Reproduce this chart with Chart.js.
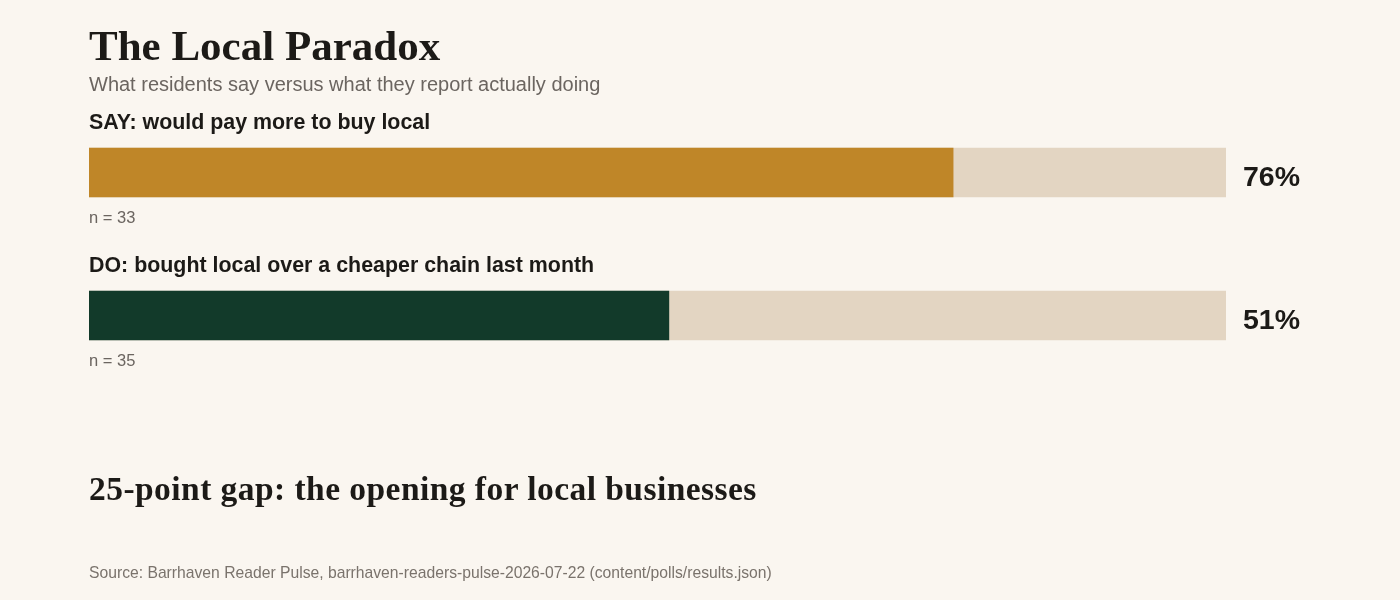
<!DOCTYPE html>
<html>
<head>
<meta charset="utf-8">
<script src="https://cdn.jsdelivr.net/npm/chart.js@4"></script>
<style>
  html,body{margin:0;padding:0;background:#faf6f0;}
  #wrap{position:relative;width:1400px;height:600px;overflow:hidden;background:#faf6f0;}
  #chart{position:absolute;left:0;top:0;width:1400px;height:600px;}
  .t{position:absolute;left:89px;margin:0;white-space:nowrap;line-height:1;}
  #title{top:24px;font:bold 43px "Liberation Serif",Georgia,serif;line-height:1;color:#1c1a17;}
  #sub{top:74px;font:20px "Liberation Sans",Arial,sans-serif;line-height:1;color:#6b6560;}
  #take{top:472px;font:bold 33.5px "Liberation Serif",Georgia,serif;line-height:1;letter-spacing:0.45px;color:#1c1a17;}
  #src{top:565px;font:15.7px "Liberation Sans",Arial,sans-serif;line-height:1;color:#7a736c;}
</style>
</head>
<body>
<div id="wrap">
  <canvas id="chart" width="1400" height="600"></canvas>
  <h1 class="t" id="title">The Local Paradox</h1>
  <p class="t" id="sub">What residents say versus what they report actually doing</p>
  <p class="t" id="take">25-point gap: the opening for local businesses</p>
  <p class="t" id="src">Source: Barrhaven Reader Pulse, barrhaven-readers-pulse-2026-07-22 (content/polls/results.json)</p>
</div>
<script>
const categories = ["SAY: would pay more to buy local", "DO: bought local over a cheaper chain last month"];
const values = [76, 51];
const sampleSizes = [33, 35];
const trackValues = [100, 100];
const barColors = ["#bf8628", "#123a2a"];

const labelPlugin = {
  id: 'rowLabels',
  afterDatasetsDraw(chart) {
    const ctx = chart.ctx;
    const meta = chart.getDatasetMeta(0);
    const area = chart.chartArea;
    meta.data.forEach((bar, i) => {
      const top = bar.y - bar.height / 2;
      const bottom = bar.y + bar.height / 2;
      ctx.save();
      ctx.textBaseline = 'alphabetic';
      ctx.textAlign = 'left';
      ctx.fillStyle = '#1c1a17';
      ctx.font = 'bold 21.4px "Liberation Sans", Arial, sans-serif';
      ctx.fillText(categories[i], area.left, top - 19.5);
      ctx.fillStyle = '#6b6560';
      ctx.font = '16.5px "Liberation Sans", Arial, sans-serif';
      ctx.fillText('n = ' + sampleSizes[i], area.left, bottom + 26);
      ctx.fillStyle = '#1c1a17';
      ctx.font = 'bold 28.5px "Liberation Sans", Arial, sans-serif';
      ctx.fillText(values[i] + '%', area.right + 17, bar.y + 13);
      ctx.restore();
    });
  }
};

new Chart(document.getElementById('chart'), {
  type: 'bar',
  data: {
    labels: categories,
    datasets: [
      { data: values, backgroundColor: barColors, barThickness: 49, order: 1, grouped: false },
      { data: trackValues, backgroundColor: '#e3d5c2', barThickness: 49, order: 2, grouped: false }
    ]
  },
  options: {
    indexAxis: 'y',
    responsive: false,
    animation: false,
    devicePixelRatio: 1,
    layout: { padding: { left: 89, right: 174, top: 101, bottom: 213 } },
    scales: {
      x: { display: false, min: 0, max: 100 },
      y: { display: false }
    },
    plugins: { legend: { display: false }, tooltip: { enabled: false }, title: { display: false } }
  },
  plugins: [labelPlugin]
});
</script>
</body>
</html>
